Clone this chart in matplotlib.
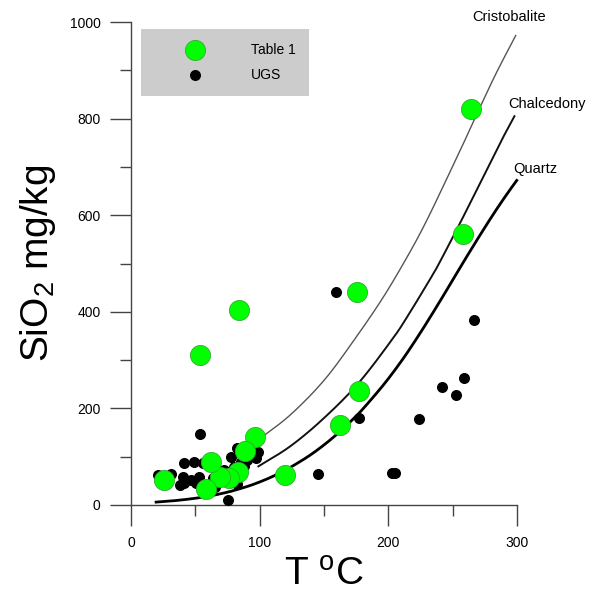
import matplotlib
matplotlib.use("Agg")
import numpy as np
import matplotlib.pyplot as plt
from matplotlib.ticker import MultipleLocator

plt.rcParams['font.family'] = ['Liberation Sans', 'DejaVu Sans']
plt.rcParams['mathtext.fontset'] = 'custom'
plt.rcParams['mathtext.rm'] = 'Liberation Sans'
plt.rcParams['mathtext.it'] = 'Liberation Sans:italic'

# ---- data ----
table1_T = [25.8, 53.5, 83.7, 264.1, 258.4, 176.0, 177.0, 162.2, 119.8, 96.1,
            88.6, 83.2, 76.2, 69.0, 62.0, 58.1]
table1_S = [51.8, 311, 404, 819, 562, 440, 236, 165, 63, 141,
            112, 68, 56, 59, 90, 34]

ugs_T = [20.9, 31.2, 41.1, 49.1, 53.7, 40.3, 38.0, 41.1, 52.9, 50.4,
         54.3, 77.5, 82.7, 85.3, 96.9, 98.8, 75.4, 65.1, 72.3, 80.1,
         90.5, 55.6, 93.0, 87.6, 63.6, 46.5, 82.2,
         159.1, 145.2, 202.9, 205.0, 177.0, 224.0, 241.7, 252.7, 258.5, 266.7]
ugs_S = [63, 64, 86, 89, 147, 58, 42, 46, 57, 46,
         35, 100, 119, 90, 97, 110, 10, 38, 73, 79,
         93, 86, 104, 81, 56, 52, 44,
         440, 64, 66, 67, 180, 178, 244, 228, 263, 384]

quartz_T = [19.5, 29.7, 37.7, 47.3, 52.7, 63.7, 72.5, 79.9, 92.2, 102.2, 110.8,
            121.9, 137.4, 150.3, 161.5, 171.5, 180.6, 196.6, 210.7, 223.3,
            235.1, 246.5, 257.7, 269.2, 281.1, 291.2, 299.8]
quartz_S = [6, 8, 10, 13, 15, 20, 25, 30, 40, 50, 60,
            75, 100, 125, 150, 175, 200, 250, 300, 350,
            400, 450, 500, 550, 600, 640, 672]

chalc_T = [99, 124, 150, 177, 203, 215, 233, 240, 256, 271, 287, 298]
chalc_S = [80, 122, 180, 253, 343, 391, 470, 503, 585, 665, 750, 805]

crist_T = [99, 124, 150, 173, 196, 216, 230, 248, 260, 271, 284, 299]
crist_S = [135, 187, 258, 340, 430, 520, 590, 690, 758, 822, 895, 972]

x_ticks = [0, 100, 200, 300]
y_ticks = [0, 200, 400, 600, 800, 1000]


def smooth(xs, ys, n=20):
    """Catmull-Rom curve drawn through the given points."""
    p = np.column_stack([xs, ys]).astype(float)
    p = np.vstack([2 * p[0] - p[1], p, 2 * p[-1] - p[-2]])
    out = []
    t = np.linspace(0, 1, n, endpoint=False)[:, None]
    for i in range(1, len(p) - 2):
        p0, p1, p2, p3 = p[i - 1], p[i], p[i + 1], p[i + 2]
        seg = 0.5 * ((2 * p1) + (-p0 + p2) * t + (2 * p0 - 5 * p1 + 4 * p2 - p3) * t ** 2
                     + (-p0 + 3 * p1 - 3 * p2 + p3) * t ** 3)
        out.append(seg)
    out.append(p[-2][None, :])
    out = np.vstack(out)
    return out[:, 0], out[:, 1]


# ---- figure ----
fig = plt.figure(figsize=(6.11, 5.92), dpi=100)
ax = fig.add_axes([131/611, 87/592, (517-131)/611, (505-22)/592])

ax.plot(*smooth(crist_T, crist_S), color='#555555', lw=1.0, zorder=2, clip_on=False)
ax.plot(*smooth(chalc_T, chalc_S), color='#111111', lw=1.4, zorder=2, clip_on=False)
ax.plot(*smooth(quartz_T, quartz_S), color='black', lw=2.0, zorder=2, clip_on=False)

ax.scatter(ugs_T, ugs_S, s=48, color='black', zorder=3, clip_on=False, label='UGS')
ax.scatter(table1_T, table1_S, s=210, color='#00ff00', edgecolors='#33aa33',
           linewidths=0.6, zorder=4, clip_on=False, label='Table 1')

ax.text(265, 1010, 'Cristobalite', fontsize=10.5, va='center', ha='left', clip_on=False)
ax.text(293, 830, 'Chalcedony', fontsize=10.5, va='center', ha='left', clip_on=False)
ax.text(297, 696, 'Quartz', fontsize=10.5, va='center', ha='left', clip_on=False)

ax.set_xlim(0, 300)
ax.set_ylim(0, 1000)
ax.set_xticks(x_ticks)
ax.set_yticks(y_ticks)
ax.xaxis.set_minor_locator(MultipleLocator(50))
ax.yaxis.set_minor_locator(MultipleLocator(100))
for s in ['top', 'right']:
    ax.spines[s].set_visible(False)
for s in ['left', 'bottom']:
    ax.spines[s].set_color('#444444')
    ax.spines[s].set_linewidth(1.0)
ax.tick_params(which='major', direction='out', length=15, width=1.0,
               color='#444444', labelsize=10, pad=7)
ax.tick_params(which='minor', direction='out', length=8, width=1.0, color='#444444')

fig.text(324/611, 1 - 585/592, 'T $^{\\mathrm{o}}$C', fontsize=28,
         ha='center', va='baseline')
ax.set_ylabel('SiO$_2$ mg/kg', fontsize=28, labelpad=8)

handles, labels = ax.get_legend_handles_labels()
leg = ax.legend(handles[::-1], labels[::-1], loc='upper left',
                bbox_to_anchor=(141/611, 1 - 29/592), bbox_transform=fig.transFigure,
                frameon=True, fancybox=False, facecolor='#cccccc', edgecolor='none',
                framealpha=1, fontsize=10, borderpad=1.0, handlelength=5.8,
                handletextpad=1.1, labelspacing=0.8, borderaxespad=0, scatterpoints=1)
leg.legend_handles[1].set_sizes([48])
leg.legend_handles[0].set_sizes([210])

fig.savefig('out.png', dpi=100)
